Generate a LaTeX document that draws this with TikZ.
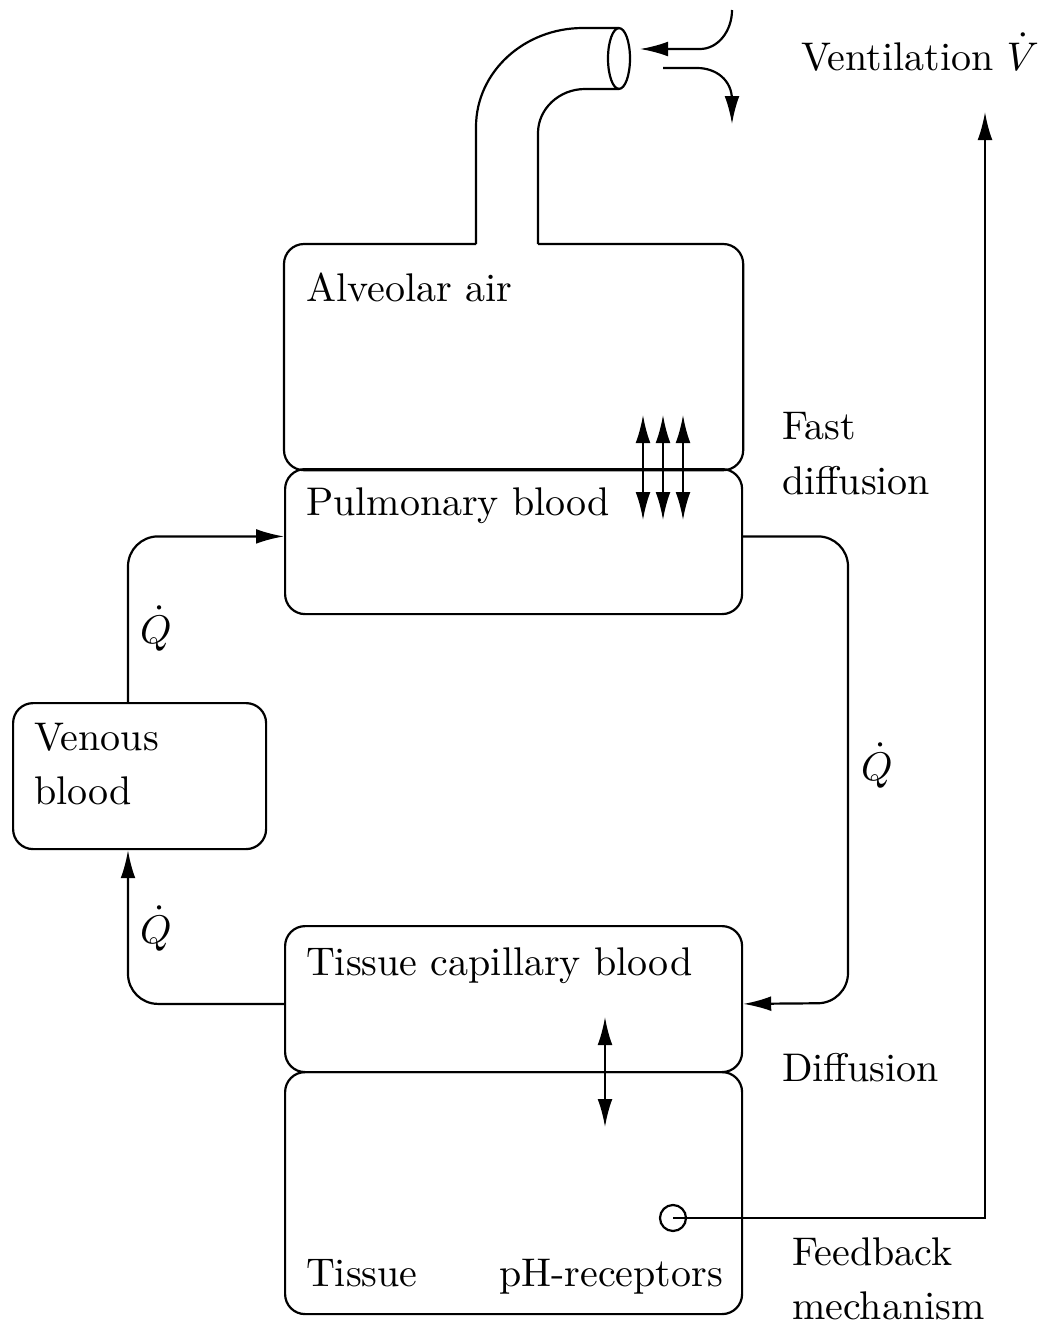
\documentclass[tikz,border=0pt]{standalone}
\usetikzlibrary{arrows.meta}
\begin{document}
\begin{tikzpicture}[x=0.25pt,y=-0.25pt, line width=0.55pt,
  box/.style={draw, rounded corners=5pt, inner sep=0pt, anchor=north west, minimum width=114.25pt},
  lbl/.style={inner sep=0pt, anchor=base west},
  tip/.style={Latex[length=7pt,width=3.7pt]},
  flow/.style={-{Latex[length=7pt,width=3.7pt]}},
  dbl/.style={{Latex[length=7pt,width=3.7pt]}-{Latex[length=7pt,width=3.7pt]}},
  pipe/.style={rounded corners=7.5pt},
]
\useasboundingbox (0,0) rectangle (1043,1329);

% compartments
\node[inner sep=0pt, anchor=north west, minimum width=114.25pt, minimum height=56pt] (alv) at (284,244) {};
\draw[rounded corners=5pt] (476,244) -| (alv.south west) -| (alv.north east) -- (538,244);
\node[box, minimum height=36.25pt] (pulm) at (284,468) {};
\node[box, minimum height=36.5pt] (tcap) at (284,925) {};
\node[box, minimum height=60.5pt] (tissue) at (284,1071) {};
\node[box, minimum width=63.25pt, minimum height=36.5pt] (venous) at (12,702) {};

% airway
\draw (476,244) -- (476,127) .. controls (476,72) and (524,28) .. (583,28) -- (619,28);
\draw (538,244) -- (538,133) .. controls (538,109) and (559,89) .. (585,89) -- (619,89);
\draw (619,58.5) ellipse [x radius=2.75pt, y radius=7.6pt];
\coordinate (mouth) at (640,49);
\draw[flow] (732,10) .. controls (732,31) and (718,49) .. (700,49) -- (mouth);
\coordinate (exhale) at (732,124);
\draw[flow] (663,68) -- (697,68) .. controls (716,68) and (732,80) .. (732,100) -- (exhale);

% blood circulation
\coordinate (lx) at (128,0);
\coordinate (rc) at (848,1003);
\draw[flow, pipe] (venous.north -| lx) |- ([yshift=1.3pt]pulm.west);
\draw[flow, pipe] ([yshift=1.3pt]pulm.east) -| (rc) -- ([yshift=-1.2pt]tcap.east);
\draw[flow, pipe] ([yshift=-1.2pt]tcap.west) -| (venous.south -| lx);

% gas exchange
\draw[dbl] (643,415) -- (643,520);
\draw[dbl] (663,415) -- (663,520);
\draw[dbl] (683,415) -- (683,520);
\draw[dbl] (605,1017) -- (605,1127);

% feedback loop
\node[draw, circle, minimum size=6.5pt, inner sep=0pt] (rec) at (673,1218) {};
\coordinate (vtip) at (985,112);
\draw[flow] (rec.center) -| (vtip);

% labels
\node[lbl] at (305,301) {Alveolar air};
\node[lbl] at (305,515) {Pulmonary blood};
\node[lbl] at (33,750) {Venous};
\node[lbl] at (33,804) {blood};
\node[lbl] at (305,975) {Tissue capillary blood};
\node[lbl] at (305,1286) {Tissue};
\node[lbl] at (498,1286) {pH-receptors};
\node[lbl] at (781,439) {Fast};
\node[lbl] at (781,494) {diffusion};
\node[lbl] at (781,1081) {Diffusion};
\node[lbl] at (791,1265) {Feedback};
\node[lbl] at (791,1319) {mechanism};
\node[lbl] at (800,70) {Ventilation $\dot V$};
\node[lbl] at (139,643) {$\dot Q$};
\node[lbl] at (139,943) {$\dot Q$};
\node[lbl] at (860,780) {$\dot Q$};
\end{tikzpicture}
\end{document}
